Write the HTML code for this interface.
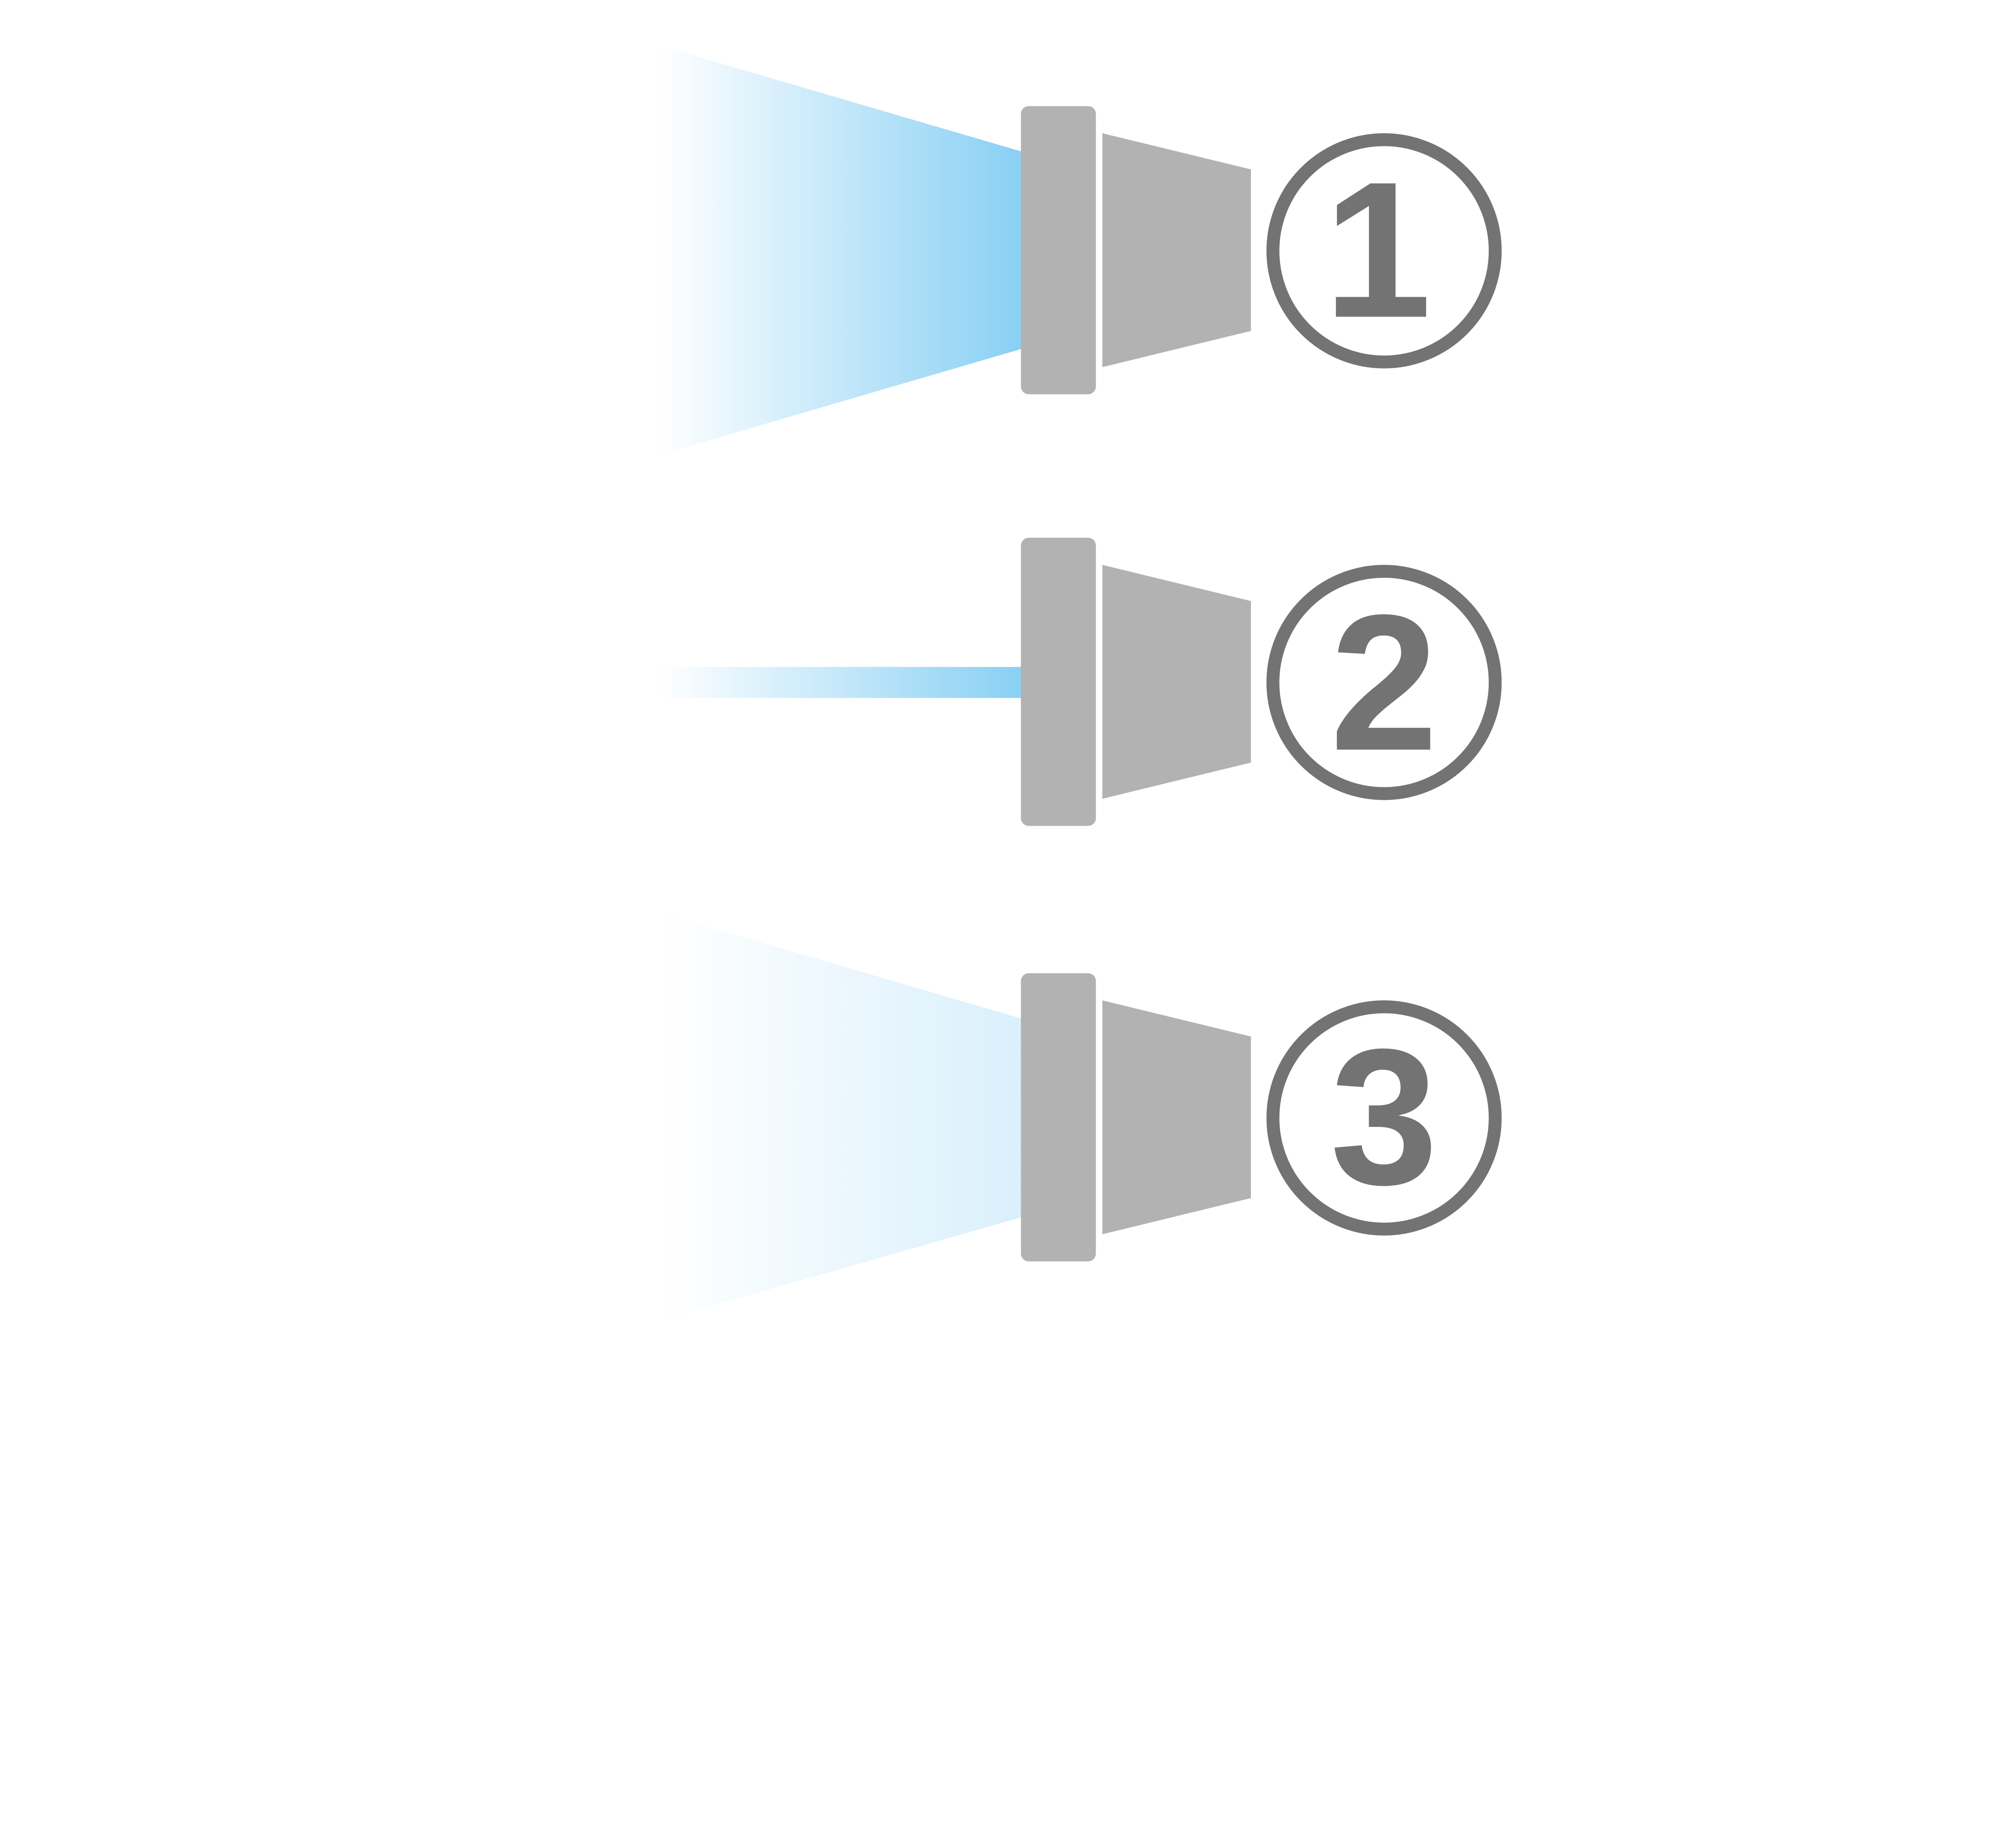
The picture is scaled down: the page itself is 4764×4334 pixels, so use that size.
<!DOCTYPE html>
<html><head><meta charset="utf-8"><style>
html,body{margin:0;padding:0;background:#fff}
svg{display:block}
</style></head><body>
<svg width="4764" height="4334" viewBox="0 0 1560 1419" xmlns="http://www.w3.org/2000/svg">
<defs>
<linearGradient id="g1" x1="510" y1="0" x2="790" y2="0" gradientUnits="userSpaceOnUse">
<stop offset="0" stop-color="#89d0f4" stop-opacity="0"/>
<stop offset="1" stop-color="#89d0f4" stop-opacity="1"/>
</linearGradient>
<linearGradient id="g3" x1="510" y1="0" x2="790" y2="0" gradientUnits="userSpaceOnUse">
<stop offset="0" stop-color="#89d0f4" stop-opacity="0"/>
<stop offset="1" stop-color="#89d0f4" stop-opacity="0.32"/>
</linearGradient>
<g id="dev">
<rect x="790" y="82" width="58" height="223" rx="6" fill="#b2b2b2"/>
<polygon points="853,103 968,131 968,256 853,284" fill="#b2b2b2"/>
<circle cx="1071" cy="194" r="86" fill="#fff" stroke="#737373" stroke-width="10"/>
</g>
</defs>
<polygon points="510,35 790,117 790,270 510,352" fill="url(#g1)"/>
<use href="#dev"/>
<text x="1066" y="245" font-family="Liberation Sans, sans-serif" font-weight="bold" font-size="150" fill="#737373" text-anchor="middle">1</text>

<rect x="510" y="516" width="280" height="24" fill="url(#g1)"/>
<use href="#dev" y="334"/>
<text x="1071" y="580" font-family="Liberation Sans, sans-serif" font-weight="bold" font-size="150" fill="#737373" text-anchor="middle">2</text>

<polygon points="510,706 790,788 790,942 510,1022" fill="url(#g3)"/>
<use href="#dev" y="671"/>
<text x="1071" y="916" font-family="Liberation Sans, sans-serif" font-weight="bold" font-size="150" fill="#737373" text-anchor="middle">3</text>
</svg>
</body></html>
